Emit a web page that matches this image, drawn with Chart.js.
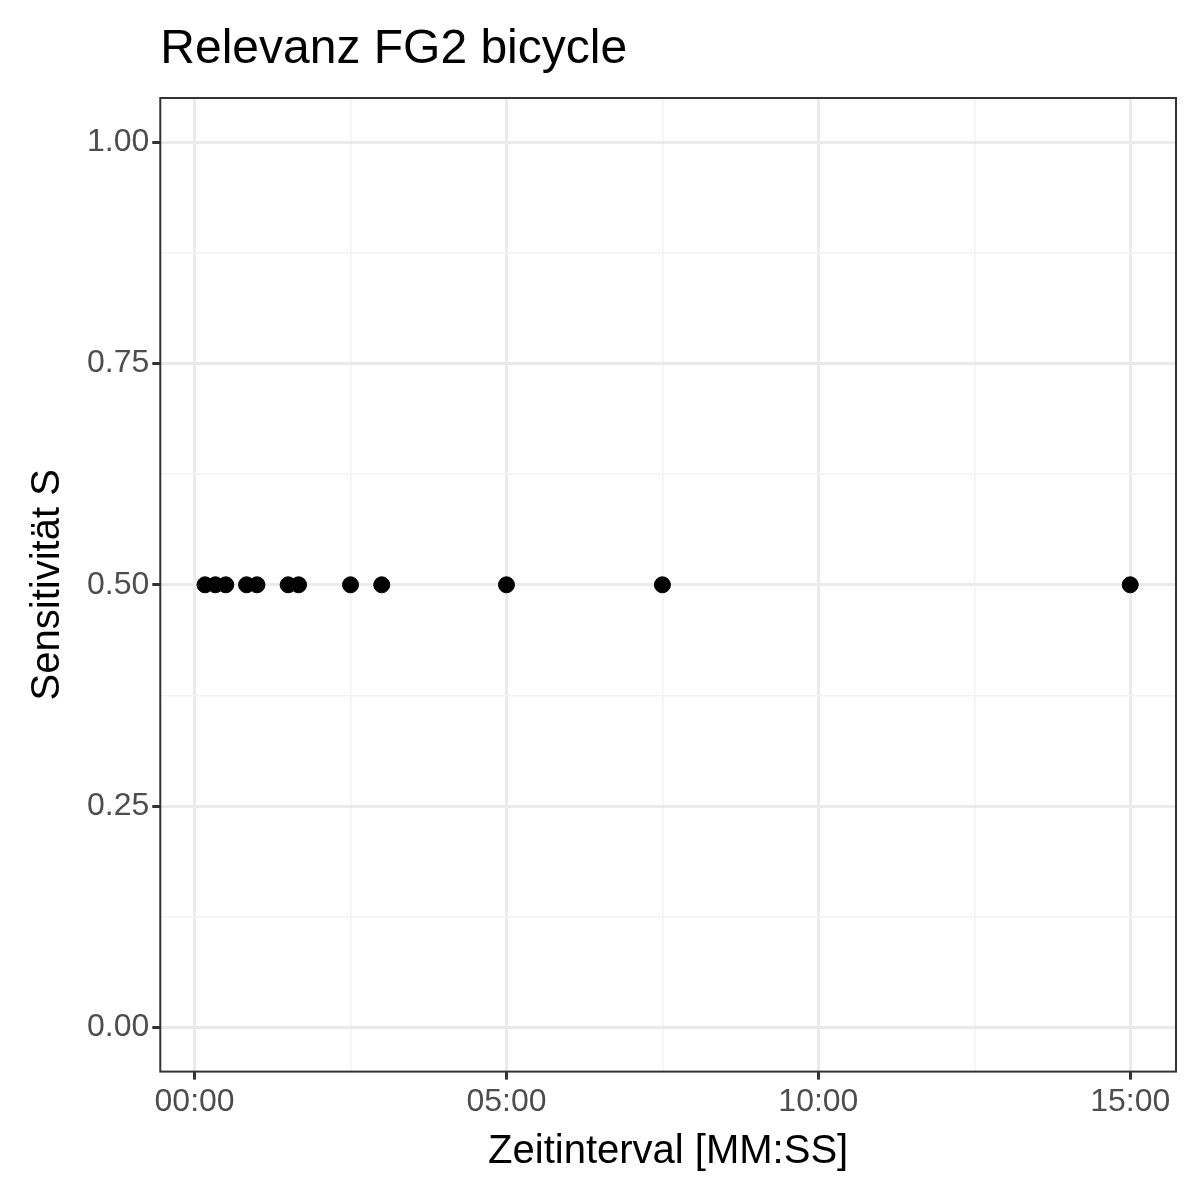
<!DOCTYPE html>
<html>
<head>
<script src="https://cdn.jsdelivr.net/npm/chart.js@4"></script>
<style>
  body { margin: 0; background: #fff; }
  #wrap { width: 1200px; height: 1200px; position: relative; }
</style>
</head>
<body>
<div id="wrap"><canvas id="c" width="1200" height="1200"></canvas></div>
<script>
// seconds since 00:00
var intervals = [10, 20, 30, 50, 60, 90, 100, 150, 180, 300, 450, 900];
var sensitivity = [0.5, 0.5, 0.5, 0.5, 0.5, 0.5, 0.5, 0.5, 0.5, 0.5, 0.5, 0.5];
var yTicks = [0, 0.25, 0.5, 0.75, 1];
var titleText = "Relevanz FG2 bicycle";

function mmss(s) {
    var m = Math.floor(s / 60), r = Math.round(s % 60);
    return (m < 10 ? "0" : "") + m + ":" + (r < 10 ? "0" : "") + r;
}

/*
** Panel border and title aligned to the panel, like ggplot theme_bw
*/
var border = {
    id: "border",
    afterDraw: function (chart) {
        var a = chart.chartArea, ctx = chart.ctx;
        ctx.save();
        ctx.strokeStyle = "#333";
        ctx.lineWidth = 2;
        ctx.strokeRect(a.left, a.top, a.right - a.left, a.bottom - a.top);
        ctx.fillStyle = "#000";
        ctx.font = "48px 'Liberation Sans', Arial";
        ctx.textBaseline = "alphabetic";
        ctx.fillText(titleText, a.left, 63);
        ctx.restore();
    }
};

var isMajorY = function (v) { return yTicks.some(function (t) { return Math.abs(t - v) < 1e-6; }); };

new Chart(document.getElementById("c"), {
    type: "scatter",
    data: {
        datasets: [{
            data: intervals.map(function (x, i) { return { x: x, y: sensitivity[i] }; }),
            backgroundColor: "#000",
            borderColor: "#000",
            pointRadius: 8,
            pointHoverRadius: 8
        }]
    },
    plugins: [border],
    options: {
        responsive: false,
        animation: false,
        layout: { padding: { left: 20, right: 24, top: 98, bottom: 20 } },
        plugins: {
            legend: { display: false },
            tooltip: { enabled: false }
        },
        scales: {
            x: {
                type: "linear", min: -33, max: 944,
                afterBuildTicks: function (s) {
                    s.ticks = [0, 150, 300, 450, 600, 750, 900].map(function (v) { return { value: v }; });
                },
                ticks: {
                    color: "#4d4d4d", font: { family: "Liberation Sans, Arial", size: 32 },
                    maxRotation: 0, autoSkip: false,
                    callback: function (v) { return v % 300 === 0 ? mmss(v) : ""; }
                },
                grid: {
                    color: function (c) { return c.tick && c.tick.value % 300 === 0 ? "#ebebeb" : "#f2f2f2"; },
                    lineWidth: function (c) { return c.tick && c.tick.value % 300 === 0 ? 3 : 1.5; },
                    tickColor: function (c) { return c.tick && c.tick.value % 300 === 0 ? "#333" : "rgba(0,0,0,0)"; },
                    tickLength: 8, drawTicks: true
                },
                border: { display: false },
                title: {
                    display: true, text: "Zeitinterval [MM:SS]", color: "#000",
                    font: { family: "Liberation Sans, Arial", size: 40 }, padding: { top: 4 }
                }
            },
            y: {
                min: -0.05, max: 1.05,
                afterBuildTicks: function (s) {
                    s.ticks = [0, 0.125, 0.25, 0.375, 0.5, 0.625, 0.75, 0.875, 1].map(function (v) { return { value: v }; });
                },
                ticks: {
                    color: "#4d4d4d", font: { family: "Liberation Sans, Arial", size: 32 }, autoSkip: false,
                    callback: function (v) { return isMajorY(v) ? v.toFixed(2) : ""; }
                },
                grid: {
                    color: function (c) { return c.tick && isMajorY(c.tick.value) ? "#ebebeb" : "#f2f2f2"; },
                    lineWidth: function (c) { return c.tick && isMajorY(c.tick.value) ? 3 : 1.5; },
                    tickColor: function (c) { return c.tick && isMajorY(c.tick.value) ? "#333" : "rgba(0,0,0,0)"; },
                    tickLength: 8
                },
                border: { display: false },
                title: {
                    display: true, text: "Sensitivität S", color: "#000",
                    font: { family: "Liberation Sans, Arial", size: 40 }, padding: { bottom: 12 }
                }
            }
        }
    }
});
</script>
</body>
</html>
